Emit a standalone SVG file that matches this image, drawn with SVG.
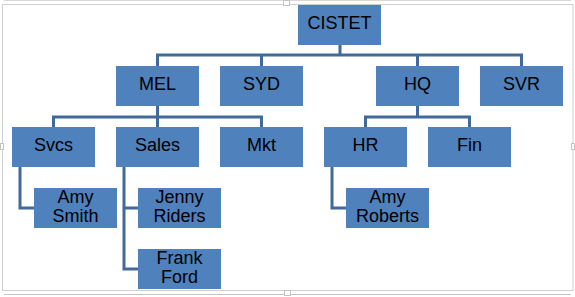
<svg xmlns="http://www.w3.org/2000/svg" width="575" height="297" viewBox="0 0 575 297">
<style>
.box{fill:#4f81bd;}
.t{font-family:"Liberation Sans",Arial,sans-serif;font-size:18px;fill:#000;text-anchor:middle;}
.c{fill:none;stroke:#41699b;stroke-width:3;}
.frame{fill:none;stroke:#cfcfcf;stroke-width:1;}
</style>
<rect width="575" height="297" fill="#fff"/>
<g id="frame">
<rect class="frame" x="2.5" y="4.5" width="570.5" height="286"/>
<line x1="4" y1="294.5" x2="571" y2="294.5" stroke="#c4c4c4"/>
<line x1="4" y1="0.5" x2="571" y2="0.5" stroke="#d8d8d8"/>
<rect x="283.5" y="0.5" width="6" height="5" fill="#fff" stroke="#c4c4c4"/>
<rect x="284.5" y="290.5" width="6" height="5" fill="#fff" stroke="#c4c4c4"/>
<rect x="0.5" y="143.5" width="3" height="6" fill="#fff" stroke="#c4c4c4"/>
<rect x="571.5" y="143.5" width="3" height="6" fill="#fff" stroke="#c4c4c4"/>
</g>
<g id="connectors">
<path class="c" d="M340 45V55M157.5 66V55H521.5V66M261.5 55V66M417.5 55V66"/>
<path class="c" d="M157.5 106V117M53.5 127V117H261.5V127M157.5 117V127"/>
<path class="c" d="M417.5 106V117M365.5 127V117H469.5V127"/>
<path class="c" d="M20 167V208H34"/>
<path class="c" d="M124 167V269H138M124 208H138"/>
<path class="c" d="M332 167V208H346"/>
</g>
<g id="CISTET"><rect class="box" x="298" y="5" width="83" height="40"/><text class="t" x="339.5" y="29">CISTET</text></g>
<g id="MEL"><rect class="box" x="116" y="66" width="83" height="40"/><text class="t" x="157.5" y="90">MEL</text></g>
<g id="SYD"><rect class="box" x="220" y="66" width="83" height="40"/><text class="t" x="261.5" y="90">SYD</text></g>
<g id="HQ"><rect class="box" x="376" y="66" width="83" height="40"/><text class="t" x="417.5" y="90">HQ</text></g>
<g id="SVR"><rect class="box" x="480" y="66" width="83" height="40"/><text class="t" x="521.5" y="90">SVR</text></g>
<g id="Svcs"><rect class="box" x="12" y="127" width="83" height="40"/><text class="t" x="53.5" y="151">Svcs</text></g>
<g id="Sales"><rect class="box" x="116" y="127" width="83" height="40"/><text class="t" x="157.5" y="151">Sales</text></g>
<g id="Mkt"><rect class="box" x="220" y="127" width="83" height="40"/><text class="t" x="261.5" y="151">Mkt</text></g>
<g id="HR"><rect class="box" x="324" y="127" width="83" height="40"/><text class="t" x="365.5" y="151">HR</text></g>
<g id="Fin"><rect class="box" x="428" y="127" width="83" height="40"/><text class="t" x="469.5" y="151">Fin</text></g>
<g id="AmySmith"><rect class="box" x="34" y="188" width="83" height="40"/><text class="t" x="75.5" y="203">Amy</text><text class="t" x="75.5" y="222">Smith</text></g>
<g id="JennyRiders"><rect class="box" x="138" y="188" width="83" height="40"/><text class="t" x="179.5" y="203">Jenny</text><text class="t" x="179.5" y="222">Riders</text></g>
<g id="FrankFord"><rect class="box" x="138" y="249" width="83" height="40"/><text class="t" x="179.5" y="264">Frank</text><text class="t" x="179.5" y="283">Ford</text></g>
<g id="AmyRoberts"><rect class="box" x="346" y="188" width="83" height="40"/><text class="t" x="387.5" y="203">Amy</text><text class="t" x="387.5" y="222">Roberts</text></g>
</svg>
